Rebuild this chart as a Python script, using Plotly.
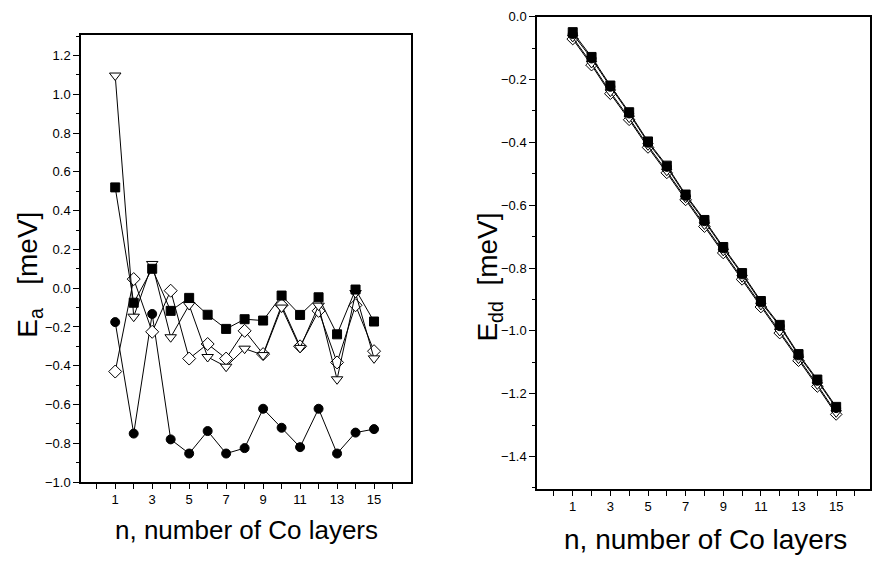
import plotly.graph_objects as go

n = list(range(1, 16))

# Left panel: anisotropy energy E_a [meV]
ea_square = [0.52, -0.075, 0.10, -0.117, -0.05, -0.137, -0.21, -0.16, -0.167, -0.038, -0.138, -0.047, -0.238, -0.007, -0.172]
ea_circle = [-0.175, -0.75, -0.133, -0.78, -0.853, -0.737, -0.853, -0.825, -0.622, -0.72, -0.82, -0.622, -0.853, -0.745, -0.727]
ea_triangle = [1.097, -0.147, 0.125, -0.253, -0.087, -0.355, -0.405, -0.312, -0.345, -0.10, -0.308, -0.09, -0.47, -0.025, -0.362]
ea_diamond = [-0.43, 0.047, -0.225, -0.013, -0.363, -0.288, -0.363, -0.22, -0.34, -0.088, -0.30, -0.117, -0.383, -0.088, -0.325]

# Right panel: dipolar energy E_dd [meV]
edd_square = [-0.049, -0.128, -0.219, -0.304, -0.397, -0.474, -0.566, -0.647, -0.733, -0.816, -0.905, -0.981, -1.074, -1.155, -1.242]
edd_circle = [-0.055, -0.133, -0.223, -0.308, -0.401, -0.478, -0.570, -0.651, -0.737, -0.820, -0.909, -0.985, -1.078, -1.159, -1.246]
edd_diamond = [-0.071, -0.154, -0.245, -0.328, -0.416, -0.497, -0.583, -0.668, -0.752, -0.836, -0.924, -1.007, -1.095, -1.177, -1.266]
edd_triangle = [-0.066, -0.149, -0.240, -0.323, -0.411, -0.492, -0.578, -0.663, -0.747, -0.831, -0.919, -1.002, -1.090, -1.172, -1.261]

odd_ticks = list(range(1, 16, 2))
even_ticks = list(range(0, 17, 2))

fig = go.Figure()

def add(x, y, symbol, filled, size, xa, ya):
    fig.add_trace(go.Scatter(
        x=x, y=y, mode="lines+markers", xaxis=xa, yaxis=ya, showlegend=False,
        line=dict(color="black", width=1),
        marker=dict(symbol=symbol, size=size,
                    color="black" if filled else "white",
                    line=dict(color="black", width=1)),
    ))

add(n, ea_circle, "circle", True, 9, "x", "y")
add(n, ea_diamond, "diamond", False, 10, "x", "y")
add(n, ea_triangle, "triangle-down", False, 10, "x", "y")
add(n, ea_square, "square", True, 9, "x", "y")

add(n, edd_diamond, "diamond", False, 9, "x2", "y2")
add(n, edd_triangle, "triangle-down", False, 9, "x2", "y2")
add(n, edd_circle, "circle", True, 9, "x2", "y2")
add(n, edd_square, "square", True, 9, "x2", "y2")

tickfont = dict(family="Liberation Sans, Arial", size=13, color="black")

xcommon = dict(
    showline=True, linecolor="black", linewidth=1.5, mirror=True,
    showgrid=False, zeroline=False,
    tickmode="array", tickvals=odd_ticks, ticktext=[str(v) for v in odd_ticks],
    ticks="outside", ticklen=5, tickwidth=1, tickcolor="black", tickfont=tickfont,
    minor=dict(tickmode="array", tickvals=even_ticks, ticks="outside", ticklen=5, tickwidth=1, tickcolor="black", showgrid=False),
)
ycommon = dict(
    showline=True, linecolor="black", linewidth=1.5, mirror=True,
    showgrid=False, zeroline=False,
    ticks="outside", ticklen=6, tickwidth=1, tickcolor="black", tickfont=tickfont,
    dtick=0.2, tickformat=".1f",
    minor=dict(dtick=0.1, ticks="outside", ticklen=3, tickwidth=1, tickcolor="black", showgrid=False),
)

fig.update_layout(
    width=873, height=565,
    margin=dict(l=0, r=0, t=0, b=0),
    paper_bgcolor="white", plot_bgcolor="white",
    xaxis=dict(domain=[0.0928, 0.4708], range=[-0.85, 17.0], anchor="y", **xcommon),
    yaxis=dict(domain=[0.1363, 0.9487], range=[-1.0, 1.305], anchor="x", tick0=0, **ycommon),
    xaxis2=dict(domain=[0.6151, 0.9966], range=[-0.9, 16.8], anchor="y2", **xcommon),
    yaxis2=dict(domain=[0.1239, 0.9823], range=[-1.503, 0.0], anchor="x2", tick0=0, **ycommon),
)

ann = dict(xref="paper", yref="paper", showarrow=False, xanchor="center", yanchor="middle")
f26 = dict(family="Liberation Sans, Arial", size=26, color="black")
f28 = dict(family="Liberation Sans, Arial", size=28, color="black")
fig.add_annotation(text="E<sub>a</sub>   [meV]", x=30 / 873, y=1 - 275 / 565, textangle=-90, font=f28, **ann)
fig.add_annotation(text="E<sub>dd</sub>  [meV]", x=490 / 873, y=1 - 278 / 565, textangle=-90, font=f28, **ann)
fig.add_annotation(text="n, number of Co layers", x=246 / 873, y=1 - 537 / 565, font=f26, **ann)
fig.add_annotation(text="n, number of Co layers", x=705 / 873, y=1 - 547 / 565, font=f28, **ann)

fig.write_html("out.html")
